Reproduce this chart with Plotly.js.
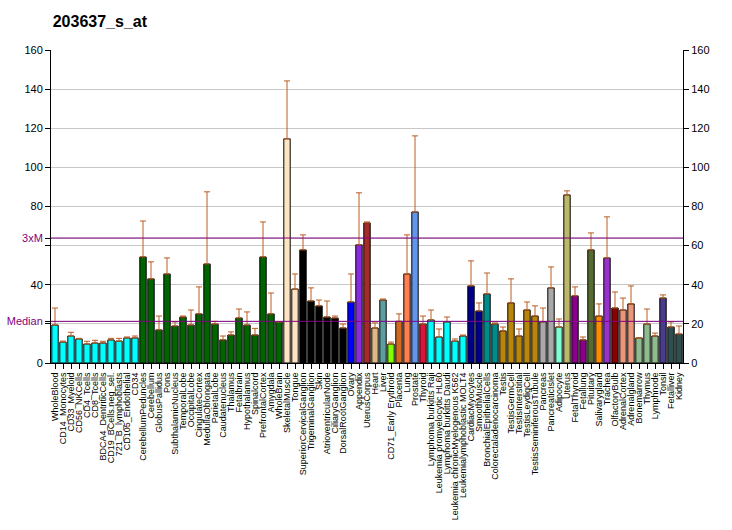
<!DOCTYPE html>
<html>
<head>
<meta charset="utf-8">
<script src="https://cdn.plot.ly/plotly-3.0.1.min.js"></script>
<style>html,body{margin:0;padding:0;background:#fff;}#chart{width:732px;height:530px;}</style>
</head>
<body>
<div id="chart"></div>
<script>
const categories = ["WholeBlood","CD14_Monocytes","CD33_Myeloid","CD56_NKCells","CD4_Tcells","CD8_Tcells","BDCA4_DentriticCells","CD19_BCells.neg_sel.","721_B_lymphoblasts","CD105_Endothelial","CD34",
"CerebellumPeduncles","Cerebellum","GlobusPallidus","Pons","SubthalamicNucleus","TemporalLobe","OccipitalLobe","CingulateCortex","MedullaOblongata","ParietalLobe","Caudatenucleus","Thalamus","Fetalbrain","Hypothalamus","Spinalcord","PrefrontalCortex","Amygdala","WholeBrain",
"SkeletalMuscle","Tongue","SuperiorCervicalGanglion","TrigeminalGanglion","Skin","AtrioventricularNode","CiliaryGanglion","DorsalRootGanglion","Ovary","Appendix","UterusCorpus","Heart","Liver","CD71_Early Erythroid","Placenta","Lung","Prostate","Thyroid",
"Lymphoma burkitts Raji","Leukemia promyelocytic HL60","Lymphoma burkitts Daudi","Leukemia chronicMyelogenous K562","Leukemialymphoblastic MOLT4","CardiacMyocytes","SmoothMuscle","BronchialEpithelialCells","Colorectaladenocarcinoma",
"Testis","TestisGermCell","TestisInterstitial","TestisLeydigCell","TestisSeminiferousTubule","Pancreas","PancreaticIslet","Adipocyte","Uterus","FetalThyroid","Fetallung","Pituitary","Salivarygland","Trachea","OlfactoryBulb","AdrenalCortex","Adrenalgland","Bonemarrow","Thymus","Lymphnode","Tonsil","Fetalliver","Kidney"];

const values = [19.4,10.7,13.8,12.3,9.7,10.2,10.2,11.8,11.2,12.8,12.8,
54.2,43.0,16.9,45.5,18.9,23.5,19.4,25.1,50.6,19.9,11.8,14.3,23.0,19.4,14.3,54.2,25.1,21.0,
114.6,37.8,57.8,31.7,29.2,23.5,23.0,17.9,31.2,60.4,71.6,17.9,32.2,9.7,21.3,45.5,77.2,19.9,
22.0,13.3,21.0,11.2,13.8,39.4,26.6,35.3,19.9,
16.4,30.7,13.8,27.1,24.0,21.0,38.4,18.4,85.9,34.3,11.8,57.8,24.0,53.7,28.1,27.1,30.2,12.8,19.9,13.8,33.2,18.4,14.8];

const errors = [8.7,0.5,1.9,0.3,1.4,1.4,0.9,0.8,1.4,0.5,1.0,
18.4,8.7,7.1,8.2,2.1,0.5,7.7,13.8,36.9,1.4,2.0,1.6,4.6,6.7,3.4,17.9,10.7,0,
29.6,7.7,7.7,6.7,3.0,8.2,1.0,2.0,14.3,26.6,0.5,2.6,0.5,1.0,3.8,20.0,38.9,4.1,
5.1,4.1,2.5,1.1,0.5,12.8,4.1,10.7,0.6,
2.0,12.3,3.6,4.1,5.2,7.1,10.7,4.1,2.1,4.6,1.5,8.7,6.2,21.0,8.2,6.1,9.2,0,7.7,1.5,1.6,2.6,4.1];

const colors = ["#00FFFF","#00FFFF","#00FFFF","#00FFFF","#00FFFF","#00FFFF","#00FFFF","#00FFFF","#00FFFF","#00FFFF","#00FFFF",
"#006400","#006400","#006400","#006400","#006400","#006400","#006400","#006400","#006400","#006400","#006400","#006400","#006400","#006400","#006400","#006400","#006400","#006400",
"#FFE4C4","#FFE4C4","#000000","#000000","#000000","#000000","#000000","#000000","#0000FF","#8A2BE2","#A52A2A","#DEB887","#5F9EA0","#7FFF00","#D2691E","#FF7F50","#6495ED","#DC143C",
"#00FFFF","#00FFFF","#00FFFF","#00FFFF","#00FFFF","#00008B","#00008B","#008B8B","#008B8B",
"#B8860B","#B8860B","#B8860B","#B8860B","#B8860B","#A9A9A9","#A9A9A9","#7FFFD4","#BDB76B","#8B008B","#8B008B","#556B2F","#FF8C00","#9932CC","#8B0000","#E9967A","#E9967A","#8FBC8F","#8FBC8F","#8FBC8F","#483D8B","#2F4F4F","#2F4F4F"];

const medianValue = 21.3;
const threeXM = 63.9;
const leftTicks = [0,20,40,60,80,100,120,140,160];
const leftTickText = ["0","","40","","80","100","120","140","160"];
const rightTicks = [0,20,40,60,80,100,120,140,160];

const font = "Arial, 'Liberation Sans', sans-serif";
const purple = "#800080";

const traces = [
  {
    type: "bar",
    x: categories,
    y: values,
    marker: {color: colors, line: {color: "#000000", width: 1}},
    error_y: {type: "data", symmetric: false, array: errors, arrayminus: values.map(() => 0), color: "#BA5C22", thickness: 1, width: 3},
    hoverinfo: "x+y",
    showlegend: false
  },
  {
    type: "scatter",
    mode: "markers",
    x: categories,
    y: values,
    yaxis: "y2",
    marker: {opacity: 0},
    hoverinfo: "skip",
    showlegend: false
  }
];

const layout = {
  width: 732,
  height: 530,
  margin: {l: 51, r: 49, t: 50, b: 167},
  paper_bgcolor: "#ffffff",
  plot_bgcolor: "#ffffff",
  bargap: 0.2,
  title: {
    text: "203637_s_at",
    font: {family: font, size: 16, color: "#000000", weight: "bold"},
    x: 0.072, xanchor: "left", xref: "container",
    y: 0.96, yanchor: "middle", yref: "container"
  },
  xaxis: {
    type: "category",
    range: [-0.5, categories.length - 0.5],
    tickmode: "array",
    tickvals: categories,
    ticktext: categories,
    tickangle: -90,
    tickfont: {family: font, size: 9, color: "#000000"},
    ticks: "outside", ticklen: 5, tickcolor: "#000000",
    showline: true, linecolor: "#000000", linewidth: 1,
    showgrid: false, automargin: false, fixedrange: true
  },
  yaxis: {
    range: [0, 160],
    tickmode: "array",
    tickvals: leftTicks.concat([medianValue, threeXM]),
    ticktext: leftTickText.concat(["<span style='color:" + purple + "'>Median</span>", "<span style='color:" + purple + "'>3xM</span>"]),
    tickfont: {family: font, size: 11, color: "#000000"},
    ticks: "outside", ticklen: 5, tickcolor: "#000000",
    showline: true, linecolor: "#000000", linewidth: 1,
    showgrid: true, gridcolor: "#c8c8c8", gridwidth: 1,
    zeroline: false, automargin: false, fixedrange: true
  },
  yaxis2: {
    overlaying: "y",
    side: "right",
    range: [0, 160],
    tickmode: "array",
    tickvals: rightTicks,
    tickfont: {family: font, size: 11, color: "#000000"},
    ticks: "outside", ticklen: 5, tickcolor: "#000000",
    showline: true, linecolor: "#000000", linewidth: 1,
    showgrid: false, zeroline: false, automargin: false, fixedrange: true
  },
  shapes: [
    {type: "line", xref: "paper", x0: 0, x1: 1, yref: "y", y0: medianValue, y1: medianValue, line: {color: purple, width: 1}, layer: "above"},
    {type: "line", xref: "paper", x0: 0, x1: 1, yref: "y", y0: threeXM, y1: threeXM, line: {color: purple, width: 1}, layer: "above"}
  ]
};

Plotly.newPlot("chart", traces, layout, {displayModeBar: false, staticPlot: true});
</script>
</body>
</html>
